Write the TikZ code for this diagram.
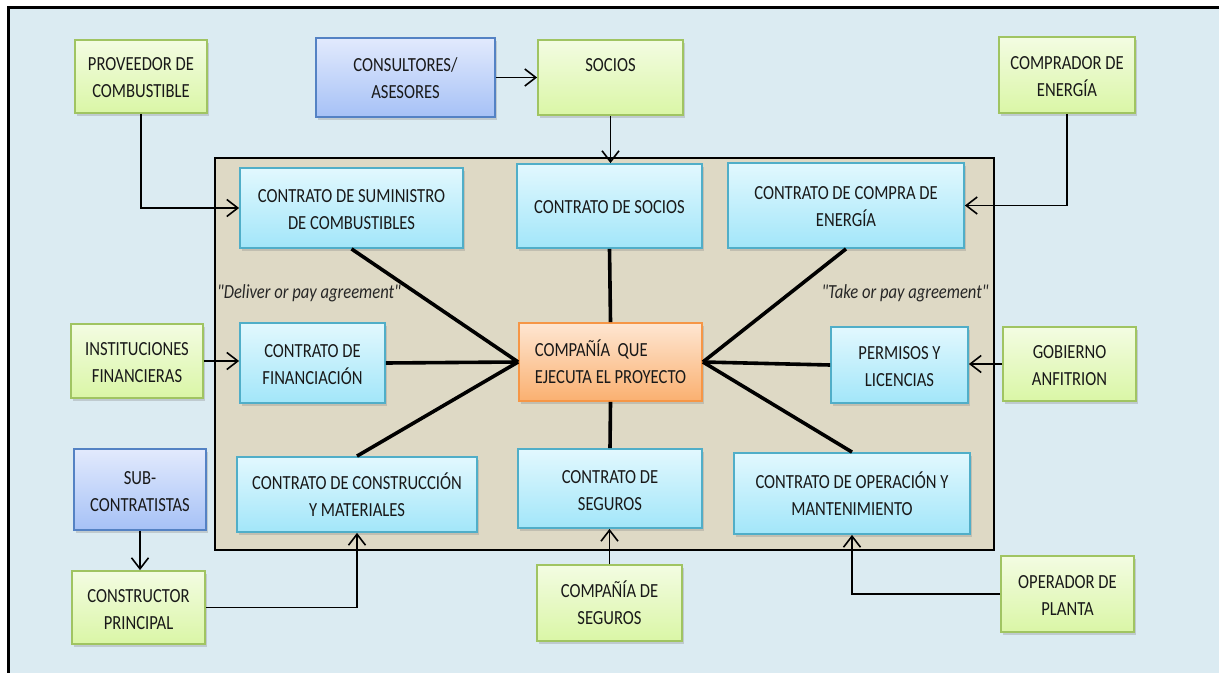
\documentclass[tikz,border=0pt]{standalone}
\usepackage{fontspec}
\setmainfont{Carlito}[FakeStretch=0.83]
\newfontfamily\notefont{Carlito}[FakeStretch=0.83]
\usetikzlibrary{arrows.meta,shadows}

\definecolor{bgblue}{RGB}{219,235,242}
\definecolor{tanfill}{RGB}{222,217,197}
\definecolor{greenline}{RGB}{160,196,98}
\definecolor{greentop}{RGB}{243,252,226}
\definecolor{greenbot}{RGB}{218,246,166}
\definecolor{blueline}{RGB}{84,130,196}
\definecolor{bluetop}{RGB}{226,234,253}
\definecolor{bluebot}{RGB}{166,193,246}
\definecolor{cyanline}{RGB}{80,174,200}
\definecolor{cyantop}{RGB}{226,248,254}
\definecolor{cyanbot}{RGB}{162,230,249}
\definecolor{orangeline}{RGB}{246,150,70}
\definecolor{orangetop}{RGB}{254,230,210}
\definecolor{orangebot}{RGB}{250,176,112}

% centred and left-aligned multi-line box texts, set slightly low in the box
\newcommand\midtext[1]{\raisebox{-1.3pt}[\height][\depth]{\begin{tabular}{@{}c@{}}#1\end{tabular}}}
\newcommand\lefttext[1]{\raisebox{-1.3pt}[\height][\depth]{\begin{tabular}{@{}l@{}}#1\end{tabular}}}

% a box given by its corners (x1,y1) and (x2,y2)
\newcommand\boxnode[7]{%
  \node[#2, minimum width={(#5-#3)*0.5pt}, minimum height={(#6-#4)*0.5pt}]
    (#1) at ({(#3+#5)/2},{(#4+#6)/2}) {#7};}

\tikzset{
  box/.style={draw, line width=0.9pt, inner sep=0pt,
    font=\fontsize{10}{13.5}\selectfont, text=black!90,
    drop shadow={shadow xshift=1.2pt, shadow yshift=-1.6pt, opacity=0.3}},
  greenbox/.style={box, draw=greenline, top color=greentop, bottom color=greenbot},
  bluebox/.style={box, draw=blueline, top color=bluetop, bottom color=bluebot},
  cyanbox/.style={box, draw=cyanline, top color=cyantop, bottom color=cyanbot},
  orangebox/.style={box, draw=orangeline, top color=orangetop, bottom color=orangebot},
  link/.style={line width=1.8pt, black},
  feed/.style={line width=0.8pt, black, -{Straight Barb[length=5.5pt, width=8.5pt, line width=0.8pt]}},
  note/.style={font=\fontsize{10}{13.5}\notefont\itshape, text=black!85, inner sep=0pt}
}

\begin{document}
\begin{tikzpicture}[x=0.5pt, y=-0.5pt]
\useasboundingbox (0,0) rectangle (1219,673);

% page background and frame
\fill[bgblue] (8,8) rectangle (1219,673);
\draw[line width=1.5pt] (8,673) -- (8,8) -- (1219,8);

% project area
\draw[line width=1.4pt, fill=tanfill] (215,158) rectangle (994,550);

% outer parties
\boxnode{prov}{greenbox}{75}{40}{207}{113}{\midtext{PROVEEDOR DE\\COMBUSTIBLE}}
\boxnode{cons}{bluebox}{316}{38}{495}{117}{\midtext{CONSULTORES/\\ASESORES}}
\boxnode{socios}{greenbox}{538}{40}{683}{115}{\midtext{SOCIOS\\\mbox{}}}
\boxnode{compr}{greenbox}{999}{37}{1135}{113}{\midtext{COMPRADOR DE\\ENERGÍA}}
\boxnode{inst}{greenbox}{71}{324}{203}{398}{\midtext{INSTITUCIONES\\FINANCIERAS}}
\boxnode{gob}{greenbox}{1003}{327}{1136}{401}{\midtext{GOBIERNO\\ANFITRION}}
\boxnode{sub}{bluebox}{74}{449}{206}{530}{\midtext{SUB-\\CONTRATISTAS}}
\boxnode{constr}{greenbox}{72}{571}{205}{644}{\midtext{CONSTRUCTOR\\PRINCIPAL}}
\boxnode{ciaseg}{greenbox}{537}{565}{682}{641}{\midtext{COMPAÑÍA DE\\SEGUROS}}
\boxnode{oper}{greenbox}{1001}{556}{1134}{632}{\midtext{OPERADOR DE\\PLANTA}}

% contracts
\boxnode{csum}{cyanbox}{240}{168}{463}{248}{\midtext{CONTRATO DE SUMINISTRO\\DE COMBUSTIBLES}}
\boxnode{csoc}{cyanbox}{517}{164}{702}{248}{\midtext{CONTRATO DE SOCIOS}}
\boxnode{ccomp}{cyanbox}{728}{163}{964}{248}{\midtext{CONTRATO DE COMPRA DE\\ENERGÍA}}
\boxnode{cfin}{cyanbox}{240}{323}{385}{403}{\midtext{CONTRATO DE\\FINANCIACIÓN}}
\boxnode{perm}{cyanbox}{831}{327}{968}{403}{\midtext{PERMISOS Y\\LICENCIAS}}
\boxnode{ccons}{cyanbox}{237}{457}{477}{532}{\midtext{CONTRATO DE CONSTRUCCIÓN\\Y MATERIALES}}
\boxnode{cseg}{cyanbox}{518}{449}{702}{528}{\midtext{CONTRATO DE\\SEGUROS}}
\boxnode{cop}{cyanbox}{734}{453}{970}{534}{\midtext{CONTRATO DE OPERACIÓN Y\\MANTENIMIENTO}}

% project company
\boxnode{cia}{orangebox}{519}{323}{702}{401}{\lefttext{COMPAÑÍA\ \ QUE\\EJECUTA EL PROYECTO}}

% agreement notes
\node[note] (deliver) at (309,293) {"Deliver or pay agreement"};
\node[note] (take) at (905,293) {"Take or pay agreement"};

% links between the company and its contracts
\draw[link] (csum.south) -- (cia.west);
\draw[link] (cfin.east) -- (cia.west);
\draw[link] (ccons.north) -- (cia.west);
\draw[link] (csoc.south) -- (cia.north);
\draw[link] (cia.south) -- (cseg.north);
\draw[link] (ccomp.south) -- (cia.east);
\draw[link] (perm.west) -- (cia.east);
\draw[link] (cop.north) -- (cia.east);

% parties feeding the contracts
\draw[feed] (prov.south) |- (csum.west);
\draw[feed] (cons.east) -- (socios.west);
\draw[feed] (socios.south) -- (socios.south |- csoc.north);
\draw[feed] (compr.south) |- (ccomp.east);
\draw[feed] (inst.east) -- (inst.east -| cfin.west);
\draw[feed] (gob.west) -- (gob.west -| perm.east);
\draw[feed] (sub.south) -- (sub.south |- constr.north);
\draw[feed] (constr.east) -| (ccons.south);
\draw[feed] (ciaseg.north) -- (ciaseg.north |- cseg.south);
\draw[feed] (oper.west) -| (cop.south);
\end{tikzpicture}
\end{document}
